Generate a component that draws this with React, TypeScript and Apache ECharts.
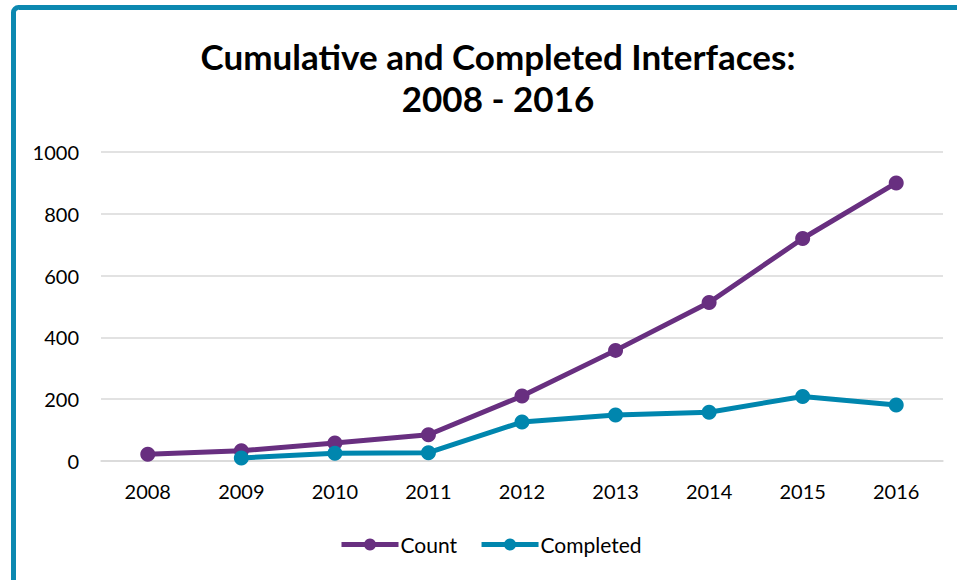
import React, { useEffect, useRef } from "react";
import * as echarts from "echarts";

const years = ["2008", "2009", "2010", "2011", "2012", "2013", "2014", "2015", "2016"];
const countValues = [22, 33, 58, 85, 210, 358, 513, 720, 900];
const completedValues: (number | string)[] = ["-", 10, 25, 27, 126, 149, 158, 209, 181];
const titleText = "Cumulative and Completed Interfaces:\n2008 - 2016";

const PURPLE = "#682F80";
const TEAL = "#0086AE";
const FONT = "Lato, 'Open Sans', sans-serif";

export default function App() {
  const ref = useRef<HTMLDivElement>(null);
  useEffect(() => {
    if (!ref.current) return;
    const chart = echarts.init(ref.current, null, { renderer: "svg" });
    chart.setOption({
      animation: false,
      backgroundColor: "#ffffff",
      title: {
        text: titleText,
        left: 493,
        textAlign: "center",
        top: 30,
        textStyle: {
          fontFamily: FONT,
          fontWeight: "bold",
          fontSize: 35,
          lineHeight: 42,
          color: "#000000",
        },
      },
      graphic: [
        {
          type: "rect",
          shape: { x: 13.5, y: 7.5, width: 1000, height: 700, r: 5 },
          style: { fill: "none", stroke: "#0C88B0", lineWidth: 5 },
          silent: true,
        },
      ],
      legend: {
        left: 334,
        top: 529,
        itemWidth: 57,
        itemHeight: 15,
        itemGap: 22,
        lineStyle: { width: 5 },
        textStyle: { fontFamily: FONT, fontSize: 21, color: "#000000", padding: [0, 0, 0, -3] },
        data: ["Count", "Completed"],
      },
      grid: { left: 101, right: 14, top: 152, bottom: 119 },
      xAxis: {
        type: "category",
        data: years,
        boundaryGap: true,
        axisLine: { show: true, lineStyle: { color: "#D9D9D9", width: 1.5 } },
        axisTick: { show: false },
        axisLabel: { fontFamily: FONT, fontSize: 20, color: "#000000", margin: 20 },
      },
      yAxis: {
        type: "value",
        min: 0,
        max: 1000,
        interval: 200,
        axisLine: { show: false },
        axisTick: { show: false },
        axisLabel: {
          fontFamily: FONT,
          fontSize: 20,
          color: "#000000",
          margin: 22,
          formatter: (v: number) => String(v),
        },
        splitLine: { lineStyle: { color: "#D9D9D9", width: 1.5 } },
      },
      series: [
        {
          name: "Count",
          type: "line",
          data: countValues,
          symbol: "circle",
          symbolSize: 15,
          lineStyle: { color: PURPLE, width: 5 },
          itemStyle: { color: PURPLE },
        },
        {
          name: "Completed",
          type: "line",
          data: completedValues,
          symbol: "circle",
          symbolSize: 15,
          lineStyle: { color: TEAL, width: 5 },
          itemStyle: { color: TEAL },
        },
      ],
    });
    return () => chart.dispose();
  }, []);
  return (
    <div
      ref={ref}
      style={{ position: "fixed", left: 0, top: 0, width: 957, height: 580 }}
    />
  );
}
